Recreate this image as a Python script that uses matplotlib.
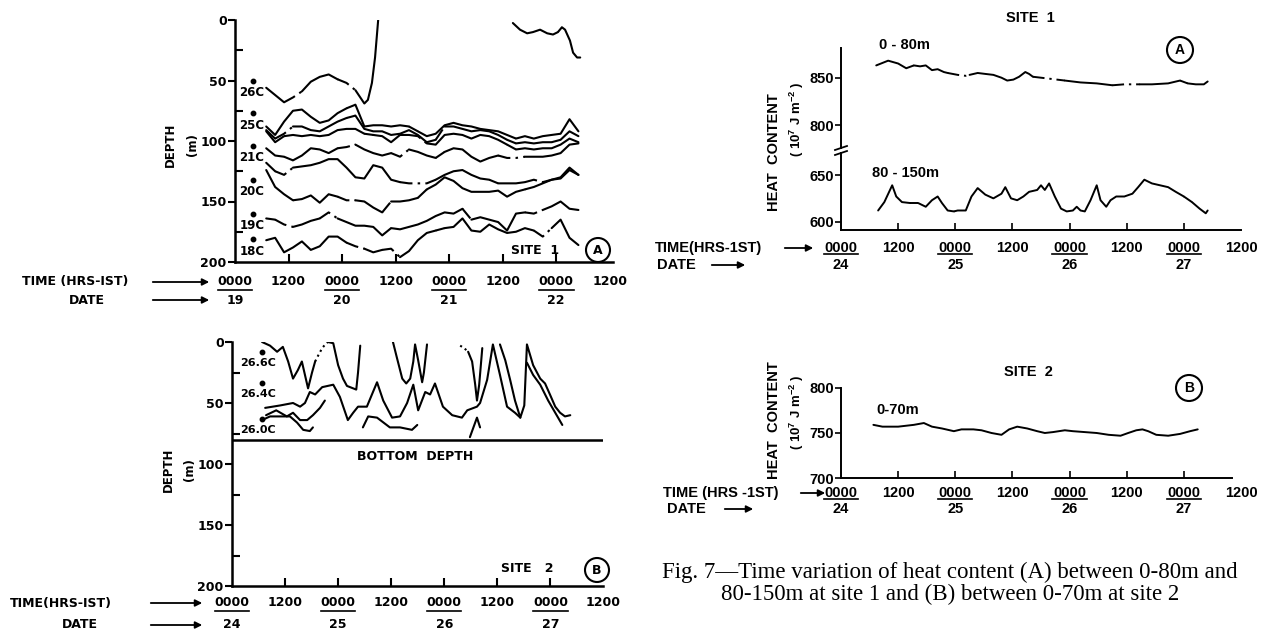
import numpy as np
import matplotlib.pyplot as plt
from matplotlib import transforms
from matplotlib.patches import Ellipse, FancyArrowPatch
from matplotlib.lines import Line2D

W, H = 1271, 633
BLOCK = 'DejaVu Sans'
PLAIN = 'Liberation Sans'
SERIF = 'Liberation Serif'
DASHDOT = (0, (6, 2.5, 1.2, 2.5))
plt.rcParams['mathtext.default'] = 'regular'

# ── Site 1 isotherm depths (m), hours after 0000 on the 19th ────────────
site1_hours = [7, 9, 11, 13, 15, 17, 19, 21, 23, 25, 27, 29, 31, 33, 35, 37, 39, 41,
               43, 45, 47, 49, 51, 53, 55, 57, 59, 61, 63, 65, 67, 69, 71, 73, 75, 77]
iso_25c = [88, 95, 84, 75, 74, 80, 85, 83, 77, 73, 70, 88, 87, 87, 88, 87, 88, 92,
           96, 94, 87, 85, 87, 88, 90, 91, 92, 95, 98, 96, 98, 96, 95, 94, 82, 92]
iso_24c = [91, 98, 94, 88, 88, 91, 92, 88, 84, 81, 79, 90, 92, 92, 95, 94, 91, 95,
           101, 99, 88, 88, 90, 92, 91, 92, 95, 99, 102, 101, 102, 101, 101, 99, 92, 96]
iso_22c = [92, 101, 96, 95, 96, 95, 96, 95, 91, 90, 90, 94, 95, 96, 101, 95, 95, 96,
           102, 103, 95, 94, 95, 98, 95, 96, 99, 103, 107, 106, 107, 106, 106, 103, 98, 101]
iso_21c = [106, 112, 113, 116, 112, 106, 107, 110, 106, 105, 103, 107, 110, 112, 110, 113, 107, 109,
           112, 114, 109, 106, 107, 113, 117, 114, 112, 114, 114, 113, 113, 113, 112, 110, 103, 102]
iso_205c = [118, 125, 128, 122, 121, 120, 118, 115, 115, 122, 130, 131, 120, 122, 132, 134, 135, 135,
            135, 132, 128, 125, 124, 128, 131, 132, 135, 135, 135, 134, 132, 134, 132, 130, 122, 128]
iso_20c = [124, 138, 144, 149, 148, 145, 151, 144, 146, 149, 149, 150, 155, 159, 150, 150, 149, 147,
           140, 136, 130, 133, 139, 142, 142, 142, 141, 146, 142, 140, 138, 135, 132, 131, 124, 128]
iso_19c = [164, 165, 169, 171, 169, 166, 164, 159, 164, 167, 170, 170, 171, 178, 172, 173, 171, 169,
           166, 162, 159, 160, 156, 165, 163, 165, 167, 174, 160, 159, 160, 157, 154, 150, 156, 157]
iso_18c = [182, 180, 192, 188, 183, 190, 187, 179, 179, 184, 187, 189, 192, 190, 189, 196, 191, 182,
           176, 174, 172, 171, 164, 174, 175, 169, 173, 176, 175, 172, 174, 179, 172, 165, 180, 186]

iso26_hours = [7, 9, 11, 13, 15, 17, 19, 21, 23, 25, 27, 29, 29.8, 30.7, 31.4, 32.1]
iso26_depth = [56, 62, 68, 64, 59, 51, 47, 45, 49, 52, 58, 69, 66, 52, 31, 0]
iso26_top_hours = [62.3, 63.9, 65.5, 66.8, 68.4, 70, 71.3, 72.4, 73.3, 74, 75.1, 75.8, 76.7, 77.4]
iso26_top_depth = [2.5, 8, 11, 10, 8, 11, 12, 10, 6, 8, 17, 27, 31, 31]

# ── Site 2 isotherms (pieces split by None) ─────────────────────────────
s2_266_hours = [6.8, 8.6, 10.2, 11.5, 12.7, 13.8, 14.9, 15.8, 16.5, 17.2, 18.1, 18.8, 19.5, 20.4,
                21.3, 21.7, 22.9, 24.0, 25.1, 26.0, 27.4, 28.1, 28.5, 29.0, None,
                36.4, 37.3, 38.5, 39.4, 40.3, 41.0, 41.4, 42.1, 43.0, 43.4, 44.1, None,
                51.6, 52.5, 53.4, 54.3, 55.0, 55.4, 55.9, 56.6, None,
                60.6, 61.8, 62.9, 64.0, 65.2, 66.1, 66.7, 68.1, 69.7, 70.8, 71.9, 73.1, 74.2, 75.3, 76.5]
s2_266_depth = [0, 3, 8, 4, 16, 30, 23, 16, 27, 38, 25, 16, 11, 5,
                1, 0, 1, 19, 30, 36, 38, 39, 25, 3, None,
                0, 13, 30, 34, 30, 16, 2, 15, 33, 25, 2, None,
                3, 5, 8, 16, 35, 48, 35, 5, None,
                2, 15, 31, 48, 62, 52, 2, 19, 30, 34, 43, 53, 58, 61, 60]
s2_264_hours = [7.5, 10.9, 13.8, 15.4, 16.5, 17.6, 18.8, 20.4, 22.9, 24.4, 26.2, 27.4, 28.5, 30.5,
                32.8, 34.2, 36.2, 38.0, 39.6, 41.0, 42.1, 43.7, 44.8, 45.9, 47.7, 49.8, 52.0,
                53.2, 55.4, 56.1, 57.7, 59.0, 60.6, 62.2, 64.0, 65.2]
s2_264_depth = [54, 52, 50, 53, 50, 41, 43, 37, 35, 45, 64, 58, 53, 53,
                33, 48, 62, 61, 50, 35, 56, 41, 43, 34, 53, 60, 62,
                56, 53, 50, 31, 2, 27, 53, 58, 62]
s2_262_hours = [7.7, 10, 12.4, 13.8, 15.4, 17, 18.3, 19.9, 21]
s2_262_depth = [60, 56, 61, 58, 64, 64, 60, 54, 48]
s2_260_hours = [6.8, 8.6, 10.9, 13.1, 14.7, 16.1, 17.6, 18.3, None,
                29.6, 30.8, 32.8, 35.7, 38.0, 40.7, 41.9, None,
                53.8, 55.4, 56.1, None, 66.7, 68.1, 69.7, 71.5, 73.1, 74.7]
s2_260_depth = [64, 61, 61, 61, 66, 72, 73, 70, None,
                70, 61, 62, 70, 70, 72, 68, None,
                78, 62, 70, None, 17, 27, 35, 48, 58, 68]
bottom_depth = 80

# ── Heat content (10^7 J m^-2), hours after 0000 on the 24th ────────────
hc_0_80_hours = [7.4, 9.9, 12, 13.7, 15.3, 16.6, 17.8, 19.1, 20.3, 21.6, 22.4, 24.5, 26.2, 27,
                 28.7, 30.3, 32, 33.7, 34.9, 36.2, 37.4, 38.7, 39.5, 40.3, 43.7, 47, 50.3,
                 53.7, 57, 59.5, 62.8, 65.3, 68.7, 71.2, 72.8, 74.5, 76.2, 77]
hc_0_80 = [863, 868, 865, 860, 863, 862, 863, 858, 859, 856, 855, 853, 852, 853,
           855, 854, 853, 850, 847, 848, 851, 856, 854, 851, 849, 847, 845,
           844, 842, 843, 843, 843, 844, 847, 844, 843, 843, 846]
hc_80_150_hours = [7.8, 9.1, 10.75, 11.6, 12.8, 14.5, 16.2, 17.8, 19.1, 20.3, 21.2, 22.4, 23.7,
                   24.5, 26.2, 27.4, 28.7, 30.3, 32, 33.7, 34.5, 35.7, 37, 38.3, 39.5, 41.2,
                   42, 42.8, 43.7, 44.9, 46.2, 47.4, 48.7, 49.5, 50.3, 51.2, 52.4, 53.7, 54.5,
                   55.7, 56.6, 57.8, 59.5, 61.2, 62.4, 63.7, 65.3, 67, 68.7, 70.3, 72, 73.7,
                   75.3, 76.6, 77]
hc_80_150 = [612, 621, 639, 627, 621, 620, 620, 616, 623, 627, 620, 612, 611,
             612, 612, 627, 636, 629, 625, 630, 637, 625, 623, 627, 632, 634,
             639, 634, 641, 627, 614, 611, 612, 616, 612, 611, 623, 639, 623,
             616, 623, 627, 627, 630, 637, 645, 641, 639, 637, 632, 627, 621,
             614, 609, 612]
hc_0_70_hours = [6.8, 8.7, 12, 15.3, 17.4, 19.1, 21.2, 23.7, 25.3, 27.8, 29.5, 31.6, 33.7, 35.3,
                 37, 39.1, 41.2, 42.8, 44.5, 47, 48.7, 51.2, 53.7, 56.2, 58.7, 60.3, 62,
                 63.3, 64.5, 66.2, 68.7, 71.2, 73.3, 74.9]
hc_0_70 = [759, 757, 757, 759, 761, 757, 755, 752, 754, 754, 753, 750, 748, 754,
           757, 755, 752, 750, 751, 753, 752, 751, 750, 748, 747, 750, 753,
           754, 752, 748, 747, 749, 752, 754]

tick_hours = [0, 12, 24, 36, 48, 60, 72, 84]
clock_labels = ['0000', '1200'] * 4
dates_site1 = ['19', '20', '21', '22']
dates_site2 = ['24', '25', '26', '27']

fig = plt.figure(figsize=(W / 100, H / 100), dpi=100)


def fx(x):
    return x / W


def fy(y):
    return 1 - y / H


def axes_px(x0, y0, x1, y1):
    ax = fig.add_axes([fx(x0), fy(y1), (x1 - x0) / W, (y1 - y0) / H])
    ax.patch.set_alpha(0)
    for s in ('top', 'right'):
        ax.spines[s].set_visible(False)
    return ax


def text(x, y, s, font=BLOCK, fs=9, **kw):
    fig.text(fx(x), fy(y), s, family=font, weight='bold', fontsize=fs,
             ha=kw.pop('ha', 'center'), va=kw.pop('va', 'center'), **kw)


def arrow(x0, x1, y):
    fig.add_artist(FancyArrowPatch((fx(x0), fy(y)), (fx(x1), fy(y)),
                                   transform=fig.transFigure, arrowstyle='-|>',
                                   mutation_scale=10, lw=1.3, color='k'))


def circled(x, y, letter, font, fs, r=12):
    fig.add_artist(Ellipse((fx(x), fy(y)), 2 * r / W, 2 * r / H,
                           transform=fig.transFigure, fill=False, lw=1.5, ec='k'))
    text(x, y, letter, font, fs)


def draw_line(ax, t, d, gaps=(), gap_ls=DASHDOT, lw=1.5):
    t = np.array(t, dtype=float)
    d = np.array(d, dtype=float)
    mid = (t[:-1] + t[1:]) / 2
    in_gap = np.zeros(len(mid), bool)
    for a, b in gaps:
        in_gap |= (mid > a) & (mid < b)
    start = 0
    for k in range(1, len(mid) + 1):
        if k == len(mid) or in_gap[k] != in_gap[start]:
            ax.plot(t[start:k + 1], d[start:k + 1], color='k', lw=lw,
                    ls=gap_ls if in_gap[start] else '-', solid_capstyle='round',
                    solid_joinstyle='round')
            start = k


def time_row(ax, y_time, y_date, dates, font, fs, half, gap):
    blend = transforms.blended_transform_factory(ax.transData, fig.transFigure)
    for k, t in enumerate(tick_hours):
        fig.text(t, fy(y_time), clock_labels[k], transform=blend, ha='center',
                 va='center', family=font, weight='bold', fontsize=fs)
        if k % 2 == 0:
            fig.add_artist(Line2D([t - half, t + half], [fy(y_time + gap)] * 2,
                                  transform=blend, color='k', lw=1.2))
            fig.text(t, fy(y_date), dates[k // 2], transform=blend, ha='center',
                     va='center', family=font, weight='bold', fontsize=fs)


def style_depth_axis(ax, xmax):
    ax.set_xlim(0, xmax)
    ax.set_ylim(200, 0)
    ax.set_yticks([0, 50, 100, 150, 200])
    ax.set_yticks([25, 75, 125, 175], minor=True)
    ax.set_xticks([12, 24, 36, 48, 60, 72])
    ax.tick_params(axis='y', which='major', direction='out', length=5, width=1.5, pad=1)
    ax.tick_params(axis='y', which='minor', direction='in', length=6, width=1.5)
    ax.tick_params(axis='x', direction='in', length=6, width=1.5, labelbottom=False)
    for lab in ax.get_yticklabels():
        lab.set_family(BLOCK)
        lab.set_weight('bold')
        lab.set_fontsize(9)
    for s in ('left', 'bottom'):
        ax.spines[s].set_linewidth(1.8)


# ── (A) Site 1 isotherm depths ──────────────────────────────────────────
ax_a = axes_px(235, 20, 613, 262)
style_depth_axis(ax_a, 84.75)
draw_line(ax_a, iso26_hours, iso26_depth, [(11, 15), (23, 27)])
draw_line(ax_a, iso26_top_hours, iso26_top_depth, [(72.4, 73.3)])
draw_line(ax_a, site1_hours, iso_25c, [(14, 16), (25, 28), (39, 42), (46, 48), (60, 64)])
draw_line(ax_a, site1_hours, iso_24c, [(9, 13), (25, 28), (44, 48), (60, 64), (70, 74)])
draw_line(ax_a, site1_hours, iso_22c, [(11, 14), (29, 31), (38, 44), (60, 64)])
draw_line(ax_a, site1_hours, iso_21c, [(11, 13), (23, 27), (35, 39), (45, 48), (59, 66)])
draw_line(ax_a, site1_hours, iso_205c, [(9, 13), (37, 45), (57, 60), (65, 70)])
draw_line(ax_a, site1_hours, iso_20c, [(13, 16), (23, 28), (33, 36), (40, 44), (64, 68)])
draw_line(ax_a, site1_hours, iso_19c, [(9, 13), (19, 23), (33, 35), (40, 42), (50, 54), (65, 69)])
draw_line(ax_a, site1_hours, iso_18c, [(15, 17), (25, 29), (33, 37), (45, 47), (67, 71)])
for lab, d in [('26C', 60), ('25C', 87), ('21C', 114), ('20C', 142), ('19C', 170), ('18C', 191)]:
    ax_a.text(3.8, d, lab, ha='center', va='center', family=BLOCK, weight='bold', fontsize=8.5)
    ax_a.plot(4.0, d - 10, 'o', color='k', ms=3.2, clip_on=False)
text(170, 145, 'DEPTH', rotation=90, fs=8.5)
text(193, 145, '(m)', rotation=90, fs=8.5)
text(535, 250, 'SITE  1', fs=9)
circled(598, 250, 'A', BLOCK, 9)
text(22, 282, 'TIME (HRS-IST)', ha='left', fs=9)
arrow(150, 212, 282)
text(87, 300, 'DATE', fs=9)
arrow(150, 212, 300)
time_row(ax_a, 282, 300, dates_site1, BLOCK, 9, 3.9, 8)

# ── (B) Site 2 isotherm depths ──────────────────────────────────────────
ax_b = axes_px(232, 342, 603, 586)
style_depth_axis(ax_b, 83.9)
draw_line(ax_b, s2_266_hours, s2_266_depth, [(18.8, 21.7), (51.6, 53.4)], gap_ls=':')
draw_line(ax_b, s2_264_hours, s2_264_depth)
draw_line(ax_b, s2_262_hours, s2_262_depth)
draw_line(ax_b, s2_260_hours, s2_260_depth)
ax_b.axhline(bottom_depth, color='k', lw=1.8)
for lab, d in [('26.6C', 17), ('26.4C', 43), ('26.0C', 72)]:
    ax_b.text(5.9, d, lab, ha='center', va='center', family=BLOCK, weight='bold', fontsize=8)
    ax_b.plot(6.8, d - 9, 'o', color='k', ms=3.2, clip_on=False)
text(168, 470, 'DEPTH', rotation=90, fs=8.5)
text(190, 470, '(m)', rotation=90, fs=8.5)
text(415, 457, 'BOTTOM  DEPTH', fs=9)
text(527, 568, 'SITE   2', fs=9)
circled(597, 570, 'B', BLOCK, 9)
text(10, 603, 'TIME(HRS-IST)', ha='left', fs=9)
arrow(148, 205, 603)
text(80, 625, 'DATE', fs=9)
arrow(148, 205, 625)
time_row(ax_b, 603, 625, dates_site2, BLOCK, 9, 3.9, 8)


# ── (A) right: heat content at site 1, broken axis ──────────────────────
def style_hc(ax, ticks, xmax, bottom=True):
    ax.set_xlim(0, xmax)
    ax.set_yticks(ticks)
    ax.set_xticks([12, 24, 36, 48, 60, 72] if bottom else [])
    ax.tick_params(axis='y', direction='out', length=4, width=1.2, pad=1)
    ax.tick_params(axis='x', direction='in', length=5, width=1.2, labelbottom=False)
    ax.spines['bottom'].set_visible(bottom)
    for s in ('left', 'bottom'):
        ax.spines[s].set_linewidth(1.4)
    for lab in ax.get_yticklabels():
        lab.set_family(PLAIN)
        lab.set_weight('bold')
        lab.set_fontsize(10.5)


ax_c1 = axes_px(841, 48, 1241, 148)
ax_c1.set_ylim(775.7, 881.4)
style_hc(ax_c1, [800, 850], 84, bottom=False)
draw_line(ax_c1, hc_0_80_hours, hc_0_80,
          [(13.7, 15.3), (22.4, 27), (40.3, 47), (57, 62.8), (71.2, 72.8)], lw=1.4)
ax_c2 = axes_px(841, 153, 1241, 230)
ax_c2.set_ylim(591.1, 673.6)
style_hc(ax_c2, [600, 650], 84)
draw_line(ax_c2, hc_80_150_hours, hc_80_150, [(14.5, 16.2), (23.7, 26.2), (72, 73.7)], lw=1.4)
for yb in (148, 153):
    fig.add_artist(Line2D([fx(835), fx(847)], [fy(yb + 2), fy(yb - 2)], color='k', lw=1.3))
text(1030, 18, 'SITE  1', PLAIN, 10.5)
text(904, 45, '0 - 80m', PLAIN, 10.5)
text(906, 173, '80 - 150m', PLAIN, 10.5)
circled(1180, 50, 'A', PLAIN, 10, r=13)
text(774, 152, 'HEAT  CONTENT', PLAIN, 10.5, rotation=90)
text(797, 119, '( 10$^{7}$ J m$^{-2}$ )', PLAIN, 9.5, rotation=90)
text(655, 248, 'TIME(HRS-1ST)', PLAIN, 10.5, ha='left')
arrow(782, 816, 248)
text(657, 265, 'DATE', PLAIN, 10.5, ha='left')
arrow(709, 748, 265)
time_row(ax_c2, 248, 265, dates_site2, PLAIN, 10.5, 3.6, 6)

# ── (B) right: heat content at site 2 ───────────────────────────────────
ax_d = axes_px(841, 387.7, 1232, 478.3)
ax_d.set_ylim(700, 800)
style_hc(ax_d, [700, 750, 800], 82.1)
draw_line(ax_d, hc_0_70_hours, hc_0_70, lw=1.4)
text(1028, 372, 'SITE  2', PLAIN, 10.5)
text(898, 410, '0-70m', PLAIN, 10.5)
circled(1189, 388, 'B', PLAIN, 10, r=13)
text(774, 420, 'HEAT  CONTENT', PLAIN, 10.5, rotation=90)
text(797, 412, '( 10$^{7}$ J m$^{-2}$ )', PLAIN, 9.5, rotation=90)
text(663, 493, 'TIME (HRS -1ST)', PLAIN, 10.5, ha='left')
arrow(798, 828, 493)
text(667, 509, 'DATE', PLAIN, 10.5, ha='left')
arrow(722, 756, 509)
time_row(ax_d, 493, 509, dates_site2, PLAIN, 10.5, 3.6, 6)

# ── caption ─────────────────────────────────────────────────────────────
fig.text(fx(950), fy(572), 'Fig. 7\u2014Time variation of heat content (A) between 0-80m and',
         family=SERIF, fontsize=16.5, ha='center', va='center')
fig.text(fx(950), fy(594), '80-150m at site 1 and (B) between 0-70m at site 2',
         family=SERIF, fontsize=16.5, ha='center', va='center')

fig.savefig('out.png', dpi=100, facecolor='white')
